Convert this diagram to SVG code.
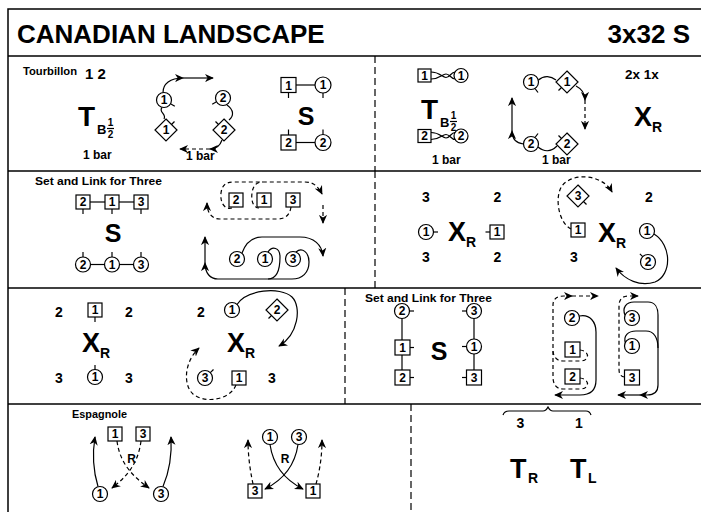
<svg xmlns="http://www.w3.org/2000/svg" width="701" height="512" viewBox="0 0 701 512">
<style>
text{font-family:"Liberation Sans",Arial,sans-serif;font-weight:bold;fill:#000}
.c text,.n{font-size:12px;text-anchor:middle}
.sh{fill:#fff;stroke:#000;stroke-width:1.2}
.ln{fill:none;stroke:#000;stroke-width:1.2}
.ds{stroke-dasharray:4,3}
.fr{fill:none;stroke:#000;stroke-width:1.5}
.dv{fill:none;stroke:#000;stroke-width:1.2;stroke-dasharray:7,4}
.lab{font-size:11.5px}
.num{font-size:14px;text-anchor:middle}
.sub{font-size:14px}
.ar{marker-end:url(#a)}
</style>
<defs>
<marker id="a" viewBox="0 0 10 10" refX="9" refY="5" markerWidth="9" markerHeight="9" markerUnits="userSpaceOnUse" orient="auto">
<path d="M0,0.5 L10,5 L0,9.5 L3,5 z" fill="#000"/>
</marker>
</defs>

<g id="frame">
<rect class="fr" x="8" y="9" width="710" height="520"/>
<line class="fr" x1="8" y1="56" x2="701" y2="56"/>
<line class="fr" x1="8" y1="171" x2="701" y2="171"/>
<line class="fr" x1="8" y1="288" x2="701" y2="288"/>
<line class="fr" x1="8" y1="404" x2="701" y2="404"/>
<line class="dv" x1="375" y1="56" x2="375" y2="171"/>
<line class="dv" x1="375" y1="171" x2="375" y2="288"/>
<line class="dv" x1="345" y1="288" x2="345" y2="404"/>
<line class="dv" x1="411" y1="404" x2="411" y2="512"/>
</g>

<g id="title">
<text x="17" y="43" font-size="26">CANADIAN LANDSCAPE</text>
<text x="690" y="43" font-size="26" text-anchor="end">3x32 S</text>
</g>

<!-- ROW 1 LEFT -->
<g id="r1-labels">
<text class="lab" x="23" y="75" textLength="54" lengthAdjust="spacingAndGlyphs">Tourbillon</text>
<text x="85" y="79" font-size="15">1 2</text>
<text x="78" y="126" font-size="28">T</text>
<text x="97" y="134" font-size="13">B</text>
<text x="110.5" y="126" font-size="10" text-anchor="middle">1</text>
<line class="ln" x1="107" y1="128.5" x2="114" y2="128.5"/>
<text x="110.5" y="137.5" font-size="10" text-anchor="middle">2</text>
<text x="83" y="159" font-size="12">1 bar</text>
<text x="186" y="160" font-size="12">1 bar</text>
</g>
<g id="r1-t1" class="c"><circle class="sh" cx="164" cy="100" r="7.5"/><line class="ln" x1="170.5" y1="103.8" x2="174.8" y2="106.3"/><text x="164" y="104.3">1</text></g>
<g id="r1-t1d" class="c"><polygon class="sh" points="166,119 177,130 166,141 155,130"/><line class="ln" x1="171.5" y1="124.5" x2="174.5" y2="121.5"/><text x="166" y="134.3">1</text></g>
<g id="r1-t2" class="c"><circle class="sh" cx="223" cy="98" r="7.5"/><line class="ln" x1="216.5" y1="101.8" x2="212.2" y2="104.3"/><text x="223" y="102.3">2</text></g>
<g id="r1-t2d" class="c"><polygon class="sh" points="224,119 235,130 224,141 213,130"/><line class="ln" x1="218.5" y1="124.5" x2="215.5" y2="121.5"/><text x="224" y="134.3">2</text></g>
<g id="r1-s1sq" class="c"><rect class="sh" x="281" y="77.5" width="15" height="15"/><line class="ln" x1="288.5" y1="92.5" x2="288.5" y2="98"/><text x="288.5" y="89.5">1</text></g>
<g id="r1-s1c" class="c"><circle class="sh" cx="323" cy="85" r="8"/><line class="ln" x1="323" y1="93" x2="323" y2="98"/><text x="323" y="89.3">1</text></g>
<g id="r1-s2sq" class="c"><rect class="sh" x="281" y="135" width="15" height="15"/><line class="ln" x1="288.5" y1="135" x2="288.5" y2="129.5"/><text x="288.5" y="147">2</text></g>
<g id="r1-s2c" class="c"><circle class="sh" cx="323" cy="142.5" r="8"/><line class="ln" x1="323" y1="134.5" x2="323" y2="129.5"/><text x="323" y="146.8">2</text></g>
<text x="306" y="125" font-size="25" text-anchor="middle">S</text>

<!-- ROW 1 RIGHT -->
<g id="r1r-labels">
<text x="421" y="119" font-size="28">T</text>
<text x="440" y="127" font-size="13">B</text>
<text x="453.5" y="119" font-size="10" text-anchor="middle">1</text>
<line class="ln" x1="450" y1="121.5" x2="457" y2="121.5"/>
<text x="453.5" y="130.5" font-size="10" text-anchor="middle">2</text>
<text x="432" y="164" font-size="12">1 bar</text>
<text x="542" y="164" font-size="12">1 bar</text>
<text x="625" y="79" font-size="13.5">2x 1x</text>
<text x="634" y="126" font-size="27">X</text>
<text x="652" y="132" class="sub">R</text>
</g>
<g id="r1r-h1sq" class="c"><rect class="sh" x="418" y="69" width="13" height="13"/><text x="424.5" y="79.8">1</text></g>
<g id="r1r-h1c" class="c"><circle class="sh" cx="461" cy="75.5" r="7"/><text x="461" y="79.8">1</text></g>
<g id="r1r-h2sq" class="c"><rect class="sh" x="418" y="129.5" width="13" height="13"/><text x="424.5" y="140.3">2</text></g>
<g id="r1r-h2c" class="c"><circle class="sh" cx="461" cy="136" r="7"/><text x="461" y="140.3">2</text></g>
<g id="r1r-c1" class="c"><circle class="sh" cx="531" cy="82" r="7.5"/><line class="ln" x1="535" y1="88.5" x2="538" y2="92.5"/><text x="531" y="86.3">1</text></g>
<g id="r1r-d1" class="c"><polygon class="sh" points="567,71 578,82 567,93 556,82"/><line class="ln" x1="561.5" y1="87.5" x2="558.5" y2="90.5"/><text x="567" y="86.3">1</text></g>
<g id="r1r-c2" class="c"><circle class="sh" cx="531" cy="144" r="7.5"/><line class="ln" x1="535" y1="137.5" x2="538" y2="133.5"/><text x="531" y="148.3">2</text></g>
<g id="r1r-d2" class="c"><polygon class="sh" points="567,133 578,144 567,155 556,144"/><line class="ln" x1="561.5" y1="138.5" x2="558.5" y2="135.5"/><text x="567" y="148.3">2</text></g>

<!-- ROW 2 LEFT -->
<text class="lab" x="35" y="185" textLength="127" lengthAdjust="spacingAndGlyphs">Set and Link for Three</text>
<g id="r2-sq2" class="c"><rect class="sh" x="76" y="195" width="14" height="14"/><line class="ln" x1="83" y1="209" x2="83" y2="214"/><text x="83" y="206.3">2</text></g>
<g id="r2-sq1" class="c"><rect class="sh" x="105" y="195" width="14" height="14"/><line class="ln" x1="112" y1="209" x2="112" y2="214"/><text x="112" y="206.3">1</text></g>
<g id="r2-sq3" class="c"><rect class="sh" x="134" y="195" width="14" height="14"/><line class="ln" x1="141" y1="209" x2="141" y2="214"/><text x="141" y="206.3">3</text></g>
<text x="113" y="242" font-size="25" text-anchor="middle">S</text>
<g id="r2-c2" class="c"><circle class="sh" cx="83" cy="264.5" r="7.5"/><line class="ln" x1="83" y1="257" x2="83" y2="252"/><text x="83" y="268.8">2</text></g>
<g id="r2-c1" class="c"><circle class="sh" cx="112" cy="264.5" r="7.5"/><line class="ln" x1="112" y1="257" x2="112" y2="252"/><text x="112" y="268.8">1</text></g>
<g id="r2-c3" class="c"><circle class="sh" cx="141" cy="264.5" r="7.5"/><line class="ln" x1="141" y1="257" x2="141" y2="252"/><text x="141" y="268.8">3</text></g>
<g id="r2-l-sq2" class="c"><rect class="sh" x="229" y="193" width="14" height="14"/><text x="236" y="204.3">2</text></g>
<g id="r2-l-sq1" class="c"><rect class="sh" x="257" y="193" width="14" height="14"/><text x="264" y="204.3">1</text></g>
<g id="r2-l-sq3" class="c"><rect class="sh" x="286" y="193" width="14" height="14"/><text x="293" y="204.3">3</text></g>
<g id="r2-l-c2" class="c"><circle class="sh" cx="237" cy="259" r="7.5"/><text x="237" y="263.3">2</text></g>
<g id="r2-l-c1" class="c"><circle class="sh" cx="265" cy="259" r="7.5"/><text x="265" y="263.3">1</text></g>
<g id="r2-l-c3" class="c"><circle class="sh" cx="293" cy="259" r="7.5"/><text x="293" y="263.3">3</text></g>

<!-- ROW 2 RIGHT -->
<g id="r2r-labels">
<text class="num" x="426" y="202">3</text>
<text class="num" x="497.5" y="202">2</text>
<text class="num" x="426" y="262">3</text>
<text class="num" x="497.5" y="262">2</text>
<text x="448" y="241" font-size="27">X</text>
<text x="466" y="247" class="sub">R</text>
<text class="num" x="649" y="202">2</text>
<text class="num" x="574" y="262">3</text>
<text x="598" y="242" font-size="27">X</text>
<text x="616" y="248" class="sub">R</text>
</g>
<g id="r2r-c1" class="c"><circle class="sh" cx="426" cy="232" r="7.5"/><line class="ln" x1="433.5" y1="232" x2="438" y2="232"/><text x="426" y="236.3">1</text></g>
<g id="r2r-sq1" class="c"><rect class="sh" x="490" y="225" width="14" height="14"/><line class="ln" x1="490" y1="232" x2="485.5" y2="232"/><text x="497" y="236.3">1</text></g>
<g id="r2r-d3" class="c"><polygon class="sh" points="578,185 589,196 578,207 567,196"/><line class="ln" x1="583.5" y1="201.5" x2="586.5" y2="204.5"/><text x="578" y="200.3">3</text></g>
<g id="r2r-sq1b" class="c"><rect class="sh" x="571" y="223" width="14" height="14"/><text x="578" y="234.3">1</text></g>
<g id="r2r-c1b" class="c"><circle class="sh" cx="647" cy="231" r="7.5"/><text x="647" y="235.3">1</text></g>
<g id="r2r-c2" class="c"><circle class="sh" cx="648" cy="262" r="7.5"/><line class="ln" x1="642.7" y1="256.7" x2="639.9" y2="253.9"/><text x="648" y="266.3">2</text></g>

<!-- ROW 3 LEFT -->
<g id="r3-labels">
<text class="num" x="59" y="317">2</text>
<text class="num" x="129" y="317">2</text>
<text class="num" x="59" y="383">3</text>
<text class="num" x="129" y="383">3</text>
<text x="82" y="352" font-size="27">X</text>
<text x="100" y="358" class="sub">R</text>
<text class="num" x="201" y="317">2</text>
<text class="num" x="272" y="383">3</text>
<text x="227" y="352" font-size="27">X</text>
<text x="245" y="358" class="sub">R</text>
</g>
<g id="r3-sq1" class="c"><rect class="sh" x="88" y="303" width="14" height="14"/><line class="ln" x1="95" y1="317" x2="95" y2="322"/><text x="95" y="314.3">1</text></g>
<g id="r3-c1" class="c"><circle class="sh" cx="95" cy="377" r="7.5"/><line class="ln" x1="95" y1="369.5" x2="95" y2="365"/><text x="95" y="381.3">1</text></g>
<g id="r3-c1b" class="c"><circle class="sh" cx="232" cy="310" r="7.5"/><text x="232" y="314.3">1</text></g>
<g id="r3-d2" class="c"><polygon class="sh" points="277,299 288,310 277,321 266,310"/><line class="ln" x1="271.5" y1="315.5" x2="268.5" y2="318.5"/><text x="277" y="314.3">2</text></g>
<g id="r3-c3" class="c"><circle class="sh" cx="205" cy="378" r="7.5"/><line class="ln" x1="210.3" y1="372.7" x2="213.5" y2="369.5"/><text x="205" y="382.3">3</text></g>
<g id="r3-sq1b" class="c"><rect class="sh" x="232" y="371" width="14" height="14"/><text x="239" y="382.3">1</text></g>

<!-- ROW 3 RIGHT -->
<text class="lab" x="365" y="302" textLength="127" lengthAdjust="spacingAndGlyphs">Set and Link for Three</text>
<g id="r3r-c2" class="c"><circle class="sh" cx="402" cy="311" r="7.5"/><line class="ln" x1="409.5" y1="311" x2="414" y2="311"/><text x="402" y="315.3">2</text></g>
<g id="r3r-sq1" class="c"><rect class="sh" x="395" y="340" width="15" height="15"/><line class="ln" x1="410" y1="347.5" x2="414" y2="347.5"/><text x="402.5" y="351.8">1</text></g>
<g id="r3r-sq2" class="c"><rect class="sh" x="395" y="370" width="15" height="15"/><line class="ln" x1="410" y1="377.5" x2="414" y2="377.5"/><text x="402.5" y="381.8">2</text></g>
<g id="r3r-c3" class="c"><circle class="sh" cx="474" cy="311" r="7.5"/><line class="ln" x1="466.5" y1="311" x2="462" y2="311"/><text x="474" y="315.3">3</text></g>
<g id="r3r-c1" class="c"><circle class="sh" cx="474" cy="346.5" r="7.5"/><line class="ln" x1="466.5" y1="346.5" x2="462" y2="346.5"/><text x="474" y="350.8">1</text></g>
<g id="r3r-sq3" class="c"><rect class="sh" x="466.5" y="370" width="15" height="15"/><line class="ln" x1="466.5" y1="377.5" x2="462" y2="377.5"/><text x="474" y="381.8">3</text></g>
<text x="439" y="360" font-size="25" text-anchor="middle">S</text>
<g id="r3r-lc2" class="c"><circle class="sh" cx="572" cy="318" r="7.5"/><text x="572" y="322.3">2</text></g>
<g id="r3r-lsq1" class="c"><rect class="sh" x="565" y="342" width="15" height="15"/><text x="572.5" y="353.8">1</text></g>
<g id="r3r-lsq2" class="c"><rect class="sh" x="565" y="369" width="15" height="15"/><text x="572.5" y="380.8">2</text></g>
<g id="r3r-rc3" class="c"><circle class="sh" cx="632" cy="318" r="7.5"/><text x="632" y="322.3">3</text></g>
<g id="r3r-rc1" class="c"><circle class="sh" cx="632" cy="346" r="7.5"/><text x="632" y="350.3">1</text></g>
<g id="r3r-rsq3" class="c"><rect class="sh" x="624.5" y="370" width="15" height="15"/><text x="632" y="381.8">3</text></g>

<!-- ROW 4 -->
<text class="lab" x="72" y="418" textLength="55" lengthAdjust="spacingAndGlyphs">Espagnole</text>
<text class="n" x="131.5" y="463">R</text>
<text class="n" x="285" y="463">R</text>
<g id="r4-sq1" class="c"><rect class="sh" x="108" y="427" width="14" height="14"/><text x="115" y="438.3">1</text></g>
<g id="r4-sq3" class="c"><rect class="sh" x="136" y="427" width="14" height="14"/><text x="143" y="438.3">3</text></g>
<g id="r4-c1" class="c"><circle class="sh" cx="100" cy="494" r="7.5"/><text x="100" y="498.3">1</text></g>
<g id="r4-c3" class="c"><circle class="sh" cx="161" cy="494" r="7.5"/><text x="161" y="498.3">3</text></g>
<g id="r4-c1b" class="c"><circle class="sh" cx="270" cy="437" r="7.5"/><text x="270" y="441.3">1</text></g>
<g id="r4-c3b" class="c"><circle class="sh" cx="299" cy="437" r="7.5"/><text x="299" y="441.3">3</text></g>
<g id="r4-sq3b" class="c"><rect class="sh" x="248" y="484" width="14" height="14"/><text x="255" y="495.3">3</text></g>
<g id="r4-sq1b" class="c"><rect class="sh" x="306" y="484" width="14" height="14"/><text x="313" y="495.3">1</text></g>
<g id="r4-turns">
<text class="num" x="520.5" y="428">3</text>
<text class="num" x="579" y="428">1</text>
<text x="510" y="478" font-size="27">T</text>
<text x="528" y="483" class="sub">R</text>
<text x="570" y="478" font-size="27">T</text>
<text x="588" y="483" class="sub">L</text>
</g>

<g id="connectors">
<path class="ln ar" d="M163,92.5 C163,84 170,78 183,78"/>
<path class="ln ar" d="M183,78 L213,78"/>
<path class="ln" d="M162,107.5 C158,112 167,114 164,119"/>
<path class="ln" d="M227,105 C234,110 234,116 229,120"/>
<path class="ln ar" d="M222,140 C220,146 216,149 210,149"/>
<path class="ln ds ar" d="M210,149 L180,149"/>
<line class="ln" x1="296" y1="85" x2="315" y2="85"/>
<line class="ln" x1="296" y1="142.5" x2="315" y2="142.5"/>
<path class="ln" d="M431,72 C440,72 442,77.5 446,77.5 C450,77.5 451,72 455,72"/>
<path class="ln" d="M431,79 C440,79 442,74 446,74 C450,74 451,79 455,79"/>
<path class="ln" d="M431,132.5 C440,132.5 442,138 446,138 C450,138 451,132.5 455,132.5"/>
<path class="ln" d="M431,139.5 C440,139.5 442,134.5 446,134.5 C450,134.5 451,139.5 455,139.5"/>
<path class="ln" d="M538.5,80 C544,75 551,76 556,80"/>
<path class="ln ar" d="M576,86 C582,89 585,93 585,100"/>
<path class="ln ds ar" d="M585,100 L585,129"/>
<path class="ln" d="M538,147 C544,152 551,152 557,146"/>
<path class="ln ar" d="M523.5,144 C516,143 512,139 512,131"/>
<path class="ln ar" d="M512,131 L512,98"/>
<line class="ln" x1="90" y1="202" x2="105" y2="202"/>
<line class="ln" x1="119" y1="202" x2="134" y2="202"/>
<line class="ln" x1="90.5" y1="264.5" x2="104.5" y2="264.5"/>
<line class="ln" x1="119.5" y1="264.5" x2="133.5" y2="264.5"/>
<path class="ln ds ar" d="M232,208 C224,210 220,202 221,193 C222,185 226,182 234,182 L305,182 C313,182 318,186 322,194"/>
<path class="ln ds" d="M259,208 C253,208 251,200 252,193 C253,186 256,182 263,182"/>
<path class="ln ds ar" d="M291,207 C290,214 286,219 278,219 L220,219 C212,219 207,213 207,203"/>
<path class="ln ds ar" d="M323,205 L323,223"/>
<path class="ln ar" d="M242,253 C246,242 252,237 262,237 L300,237 C314,237 322,245 323,256"/>
<path class="ln" d="M268,252 C272,246 280,247 280,257 C280,270 277,279 268,279"/>
<path class="ln ar" d="M296,252 C302,247 309,252 309,262 C309,273 302,279 292,279 L218,279 C210,279 205,273 205,263"/>
<path class="ln ar" d="M205,263 L205,237"/>
<path class="ln ds ar" d="M571,229 C557,222 553,190 566,182 C580,172 604,177 612,192"/>
<path class="ln ar" d="M654,234 C672,245 672,275 655,282 C640,287 625,280 616,268"/>
<path class="ln ar" d="M237,304.5 C246,290 280,286 292,297 C302,307 298,335 279,346"/>
<path class="ln ds ar" d="M236,385 C230,400 205,404 193,394 C183,385 184,362 199,348"/>
<line class="ln" x1="402" y1="318.5" x2="402" y2="340"/>
<line class="ln" x1="402" y1="355" x2="402" y2="370"/>
<line class="ln" x1="474" y1="318.5" x2="474" y2="339"/>
<line class="ln" x1="474" y1="354" x2="474" y2="370"/>
<path class="ln ar" d="M579.5,316 C590,314 596,322 596,332 L596,380 C596,390 590,395 580,395 L555,395"/>
<path class="ln ds" d="M580,350 C590,351 590,361 580,361 L563,361 C557,361 553,357 553,350"/>
<path class="ln ds ar" d="M580,378 C590,379 590,389 580,389 L563,389 C556,389 553,384 553,377 L553,305 C553,299 557,296 564,296 L572,296"/>
<path class="ln ds ar" d="M572,296 L598,296"/>
<path class="ln ar" d="M625,315 C622,308 626,302 634,302 L648,302 C655,302 658,308 658,315 L658,385 C658,392 654,395 647,395 L640,395"/>
<path class="ln ar" d="M640,395 L618,395"/>
<path class="ln" d="M625.5,343 C623,336 628,331 636,331 L646,331 C654,331 658,338 658,348"/>
<path class="ln ds ar" d="M624.5,377 C619,376 619,372 619,368 L619,306 C619,300 622,296 628,296 L638,296"/>
<path class="ln ar" d="M98,486.5 C93,470 92,455 95,437"/>
<path class="ln ar" d="M163,486.5 C170,470 172,455 171,437"/>
<path class="ln ds ar" d="M117,441 C120,465 135,478 149,488"/>
<path class="ln ds ar" d="M141,441 C138,465 125,478 112,488"/>
<path class="ln ds ar" d="M253,484 C250,470 248,455 248,440"/>
<path class="ln ds ar" d="M316,484 C320,470 322,455 322,440"/>
<path class="ln ar" d="M270,444.5 C273,465 285,480 303,489"/>
<path class="ln ar" d="M298,444.5 C295,465 283,480 265,489"/>
<path class="ln" d="M503,415 C504,412 506,411 509,411 L543,411 C546,411 547,409 548,407 C549,409 550,411 553,411 L586,411 C589,411 590,412 591,415"/>
</g>
</svg>
